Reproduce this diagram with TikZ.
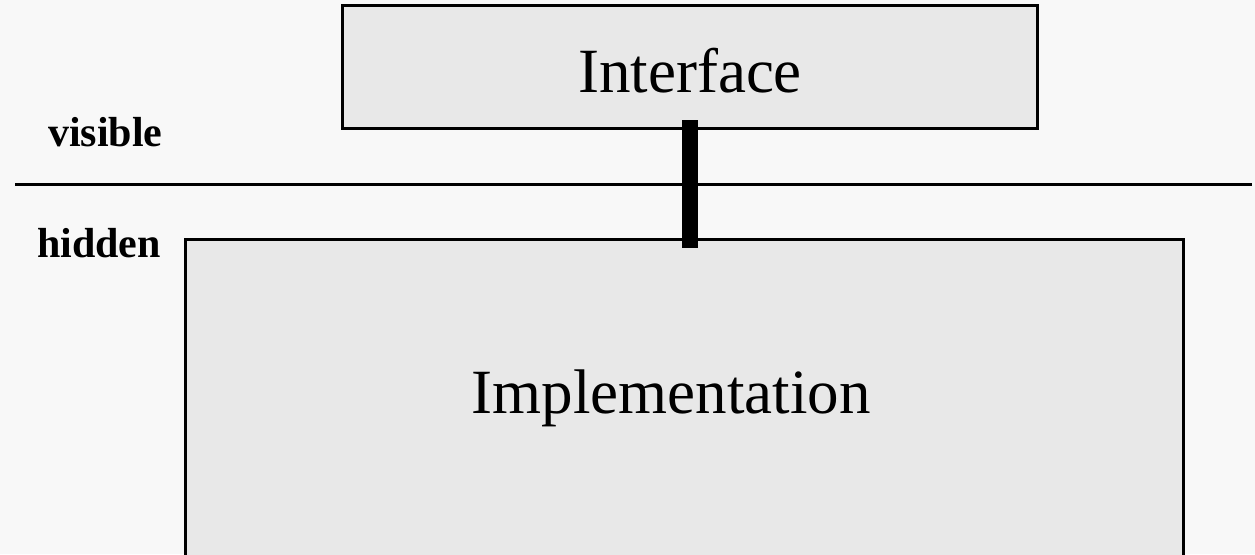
\documentclass[tikz,border=0pt]{standalone}
\usepackage{fontspec}
\setmainfont{Liberation Serif}
\definecolor{bg}{HTML}{F8F8F8}
\definecolor{boxfill}{HTML}{E8E8E8}
\tikzset{
  box/.style={draw=black, fill=boxfill, line width=3pt, rectangle, inner sep=0pt, outer sep=0pt},
  bigtext/.style={font=\fontsize{63}{63}\selectfont, inner sep=0pt, anchor=base},
  sidetext/.style={font=\fontsize{42}{42}\selectfont\bfseries, inner sep=0pt, anchor=base west},
  sepline/.style={line width=3pt},
  link/.style={line width=16pt}
}
\begin{document}
\begin{tikzpicture}[x=1pt,y=-1pt]
\path[fill=bg, use as bounding box] (0,0) rectangle (1255,554);
\node[box, minimum width=695pt, minimum height=123pt] (iface) at (689.5,66.5) {};
\node[box, minimum width=998pt, minimum height=318pt] (impl) at (684,398) {};
\node[bigtext] (ifacetext) at (690,92) {Interface};
\node[bigtext] (impltext) at (671,413) {Implementation};
\coordinate (sepL) at (15,184);
\coordinate (sepR) at (1252,184);
\draw[sepline] (sepL) -- (sepR);
\node[sidetext] (vis) at (48,146) {visible};
\node[sidetext] (hid) at (37,257) {hidden};
\coordinate (cx) at (690,0);
\draw[link] ([yshift=8pt]iface.south -| cx) -- ([yshift=-9pt]impl.north -| cx);
\end{tikzpicture}
\end{document}
